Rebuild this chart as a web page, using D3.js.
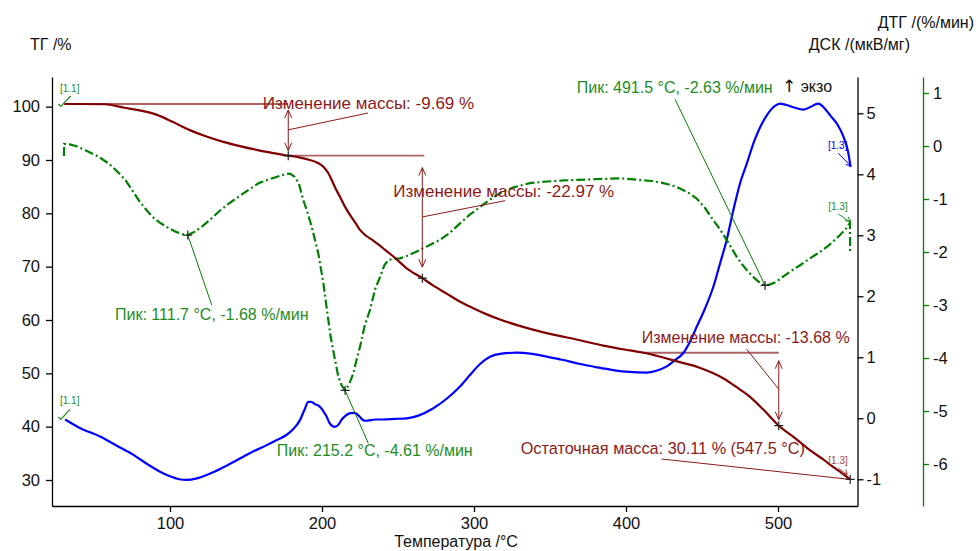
<!DOCTYPE html>
<html><head><meta charset="utf-8">
<script src="https://cdn.jsdelivr.net/npm/d3@7"></script>
<style>
html,body{margin:0;padding:0;background:#fff;}
svg{display:block;font-family:"Liberation Sans",Arial,sans-serif;}
</style></head><body>
<svg id="c" width="976" height="551"></svg>
<script>
// ---------- DATA ----------
const tgT = [30.5,40,57,70,80,91,102,113,124,135,146,157,168,177.8,185,192,197,200.9,204,206.4,209,211.8,215,218.4,222,225,229,233.7,240,247,255.7,266,274,282,290,299.5,308,317,330,340,350,369.7,385,402.6,410,420,435.5,447,457.5,465,472.8,481.6,490,500.5,511,521,530,536,542,547.5];
const tgV = [100.5,100.5,100.45,99.8,99.3,98.5,97.1,95.6,94.4,93.4,92.6,91.9,91.3,90.81,90.5,90.0,89.5,88.75,87.6,86.25,84.6,83.1,81.3,79.7,78.2,76.9,75.8,74.9,73.5,71.9,69.7,67.84,66.3,64.95,63.55,62.2,61.1,60.1,58.9,58.1,57.4,56.2,55.2,54.3,53.95,53.3,52.1,51.2,50.0,48.9,47.4,45.6,43.3,40.18,37.9,35.6,33.8,32.5,31.3,30.11];

const dscT = [31,40,54,65,75.9,85,93.4,100,106,111,117,122,128,137,146,155,163.6,170,176.8,181,185.5,188.5,191,193,195.5,197.6,200,201.5,203,205,207,208.5,211,213,215,218,220.5,222.5,225,227,229,235,240,248,255.7,263,273,282,290.8,297,304,310.5,318,328,337,347.8,358,369.7,380,391.6,402,413.6,420,426.8,432,437.7,442,446.5,452,457.5,462,466.2,470.6,475,479.4,484,488,491,494.7,498,501.3,505,510,516.7,521,526.5,530,534.2,539,543,546,547.8];
const dscV = [-0.02,-0.15,-0.30,-0.45,-0.60,-0.75,-0.875,-0.95,-1.0,-1.01,-0.99,-0.95,-0.89,-0.78,-0.66,-0.54,-0.44,-0.36,-0.27,-0.18,-0.03,0.14,0.27,0.27,0.23,0.21,0.15,0.09,0.03,-0.08,-0.13,-0.14,-0.10,-0.02,0.03,0.08,0.09,0.08,0.02,-0.03,-0.04,-0.02,-0.02,-0.01,0.0,0.04,0.16,0.32,0.52,0.70,0.89,1.01,1.06,1.075,1.06,1.01,0.96,0.89,0.84,0.79,0.76,0.75,0.78,0.85,0.95,1.07,1.25,1.5,1.8,2.16,2.55,2.92,3.41,3.85,4.17,4.52,4.76,4.9,5.04,5.12,5.16,5.14,5.1,5.06,5.1,5.16,5.1,4.97,4.82,4.62,4.38,4.12];

const dtgT = [30.2,30.4,34,38,44.3,50.9,55,59.7,65,70.6,75,79.4,84,88.2,93,99.1,104,110,111.7,116,121,126,132,138,145,152,158.4,165,171.5,176,179,182,184.7,187.7,190,193.2,197.6,200.9,204,205.7,208,210.7,213,215.2,217.5,220.6,223,225,228,231.6,235,238.2,241,243.6,247,251.3,256,262.3,270,277.6,284,290.8,297,304,310,317,326,336.8,348,358.8,376,396,409,417,424.5,430,435.5,441,446.5,452,457.5,462,466.2,469.5,472.8,476,479.4,483,486,489,491.5,495,499,504,510,514.5,521,527.6,534,540.8,545,547.3,547.5];
const dtgV = [-0.19,0.04,0.03,0.0,-0.08,-0.17,-0.24,-0.33,-0.47,-0.64,-0.83,-1.02,-1.19,-1.33,-1.44,-1.55,-1.62,-1.68,-1.68,-1.62,-1.52,-1.40,-1.24,-1.10,-0.96,-0.82,-0.70,-0.63,-0.57,-0.53,-0.52,-0.58,-0.70,-1.02,-1.21,-1.52,-2.03,-2.59,-3.25,-3.6,-3.95,-4.35,-4.52,-4.61,-4.52,-4.29,-4.0,-3.79,-3.4,-3.09,-2.7,-2.47,-2.25,-2.15,-2.13,-2.12,-2.07,-1.99,-1.88,-1.77,-1.64,-1.46,-1.30,-1.15,-1.02,-0.89,-0.78,-0.70,-0.67,-0.65,-0.63,-0.61,-0.64,-0.66,-0.70,-0.74,-0.80,-0.88,-0.99,-1.17,-1.40,-1.58,-1.77,-1.93,-2.09,-2.22,-2.34,-2.45,-2.53,-2.60,-2.63,-2.61,-2.56,-2.45,-2.33,-2.25,-2.12,-2.0,-1.86,-1.68,-1.55,-1.45,-2.02];

const xTicks = [100,200,300,400,500];
const tgTicks = [30,40,50,60,70,80,90,100];
const dscTicks = [-1,0,1,2,3,4,5];
const dtgTicks = [-6,-5,-4,-3,-2,-1,0,1];

// mass-change steps (data units)
const stepLabels = ["Изменение массы: -9.69 %","Изменение массы: -22.97 %","Изменение массы: -13.68 %"];
const stepFromT = [30.5,177.8,410];
const stepArrowT = [177.8,266,500.5];
const stepTop = [100.5,90.81,53.86];
const stepBottom = [90.81,67.84,40.18];
const residualLabel = "Остаточная масса: 30.11 % (547.5 °C)";
const residualT = 547.5, residualV = 30.11;

// DTG peaks
const peakLabels = ["Пик: 111.7 °C, -1.68 %/мин","Пик: 215.2 °C, -4.61 %/мин","Пик: 491.5 °C, -2.63 %/мин"];
const peakT = [111.7,215.2,491.5];
const peakV = [-1.68,-4.61,-2.63];

// ---------- SCALES ----------
const svg = d3.select("#c");
const L = 52, R = 857.5, T = 77, B = 506, G = 923;
const x = d3.scaleLinear().domain([22.37,552.3]).range([L,R]);
const yTG = d3.scaleLinear().domain([25.125,105.56]).range([B,T]);
const yDSC = d3.scaleLinear().domain([-1.438,5.595]).range([B,T]);
const yDTG = d3.scaleLinear().domain([-6.792,1.302]).range([B,T]);

const FONT = "16.5px";
const cTG = "#800000", cDSC = "#0000ff", cDTG = "#008000";
const cAnn = "#8b1a1a", cAnnLine = "#a04848", cGreenTxt = "#1e8c1e";
const fmt = d => String(d);

function styleAxis(g, color){
  g.selectAll("path,line").attr("stroke", color).attr("stroke-width",1.3);
  g.selectAll("text").attr("fill","#111").style("font-size",FONT).style("font-family",'"Liberation Sans",Arial,sans-serif');
}
const gl = svg.append("g").attr("transform",`translate(${L},0)`);
gl.call(d3.axisLeft(yTG).tickValues(d3.range(26,105.5,2)).tickSize(3).tickFormat("")).call(g=>styleAxis(g,"#000"));
gl.call(d3.axisLeft(yTG).tickValues(tgTicks).tickSize(6).tickPadding(6).tickSizeOuter(0).tickFormat(fmt)).call(g=>styleAxis(g,"#000"));
const gb = svg.append("g").attr("transform",`translate(0,${B})`);
gb.call(d3.axisBottom(x).tickValues(d3.range(40,552,20)).tickSize(4).tickFormat("").tickSizeOuter(0)).call(g=>styleAxis(g,"#000"));
gb.call(d3.axisBottom(x).tickValues(xTicks).tickSize(6).tickPadding(5).tickSizeOuter(0).tickFormat(fmt)).call(g=>styleAxis(g,"#000"));
const gr = svg.append("g").attr("transform",`translate(${R},0)`);
gr.call(d3.axisRight(yDSC).tickValues(d3.range(-1.4,5.6,0.2)).tickSize(3).tickFormat("").tickSizeOuter(0)).call(g=>styleAxis(g,"#000"));
gr.call(d3.axisRight(yDSC).tickValues(dscTicks).tickSize(6).tickPadding(3).tickSizeOuter(0).tickFormat(fmt)).call(g=>styleAxis(g,"#000"));
const gg = svg.append("g").attr("transform",`translate(${G},0)`);
gg.call(d3.axisRight(yDTG).tickValues(d3.range(-6.6,1.3,0.2)).tickSize(3).tickFormat("").tickSizeOuter(0)).call(g=>styleAxis(g,cDTG));
gg.call(d3.axisRight(yDTG).tickValues(dtgTicks).tickSize(6).tickPadding(4).tickSizeOuter(0).tickFormat(fmt)).call(g=>styleAxis(g,cDTG));

const title = (t,xx,yy,anchor)=>svg.append("text").attr("x",xx).attr("y",yy).attr("text-anchor",anchor||"start").style("font-size","16px").attr("fill","#111").text(t);
title("ТГ /%",30,50);
title("ДТГ /(%/мин)",974,28,"end");
title("ДСК /(мкВ/мг)",910,50,"end");
title("Температура /°C",456,547,"middle");

// ---------- CURVES ----------
const lineTG = d3.line().x((d,i)=>x(tgT[i])).y((d,i)=>yTG(tgV[i])).curve(d3.curveMonotoneX);
const lineDSC = d3.line().x((d,i)=>x(dscT[i])).y((d,i)=>yDSC(dscV[i])).curve(d3.curveMonotoneX);
const lineDTG = d3.line().x((d,i)=>x(dtgT[i])).y((d,i)=>yDTG(dtgV[i])).curve(d3.curveLinear);

const ann = svg.append("g");
for(let i=0;i<3;i++){
  ann.append("line").attr("x1",x(stepFromT[i])).attr("x2",x(stepArrowT[i])+(i===1?2:0))
    .attr("y1",yTG(stepTop[i])).attr("y2",yTG(stepTop[i]))
    .attr("stroke",cAnnLine).attr("stroke-width",1.8).attr("opacity",0.85);
}

svg.append("path").attr("d",lineDSC(dscT)).attr("fill","none").attr("stroke",cDSC).attr("stroke-width",2.2);
svg.append("path").attr("d",lineDTG(dtgT)).attr("fill","none").attr("stroke",cDTG).attr("stroke-width",2.2).attr("stroke-dasharray","9,3,2,3");
svg.append("path").attr("d",lineTG(tgT)).attr("fill","none").attr("stroke",cTG).attr("stroke-width",2.2);

// ---------- ANNOTATIONS ----------
const ann2 = svg.append("g");
function arrowHead(px,py,dir){
  return `M${px-3.5},${py-dir*8}L${px},${py}L${px+3.5},${py-dir*8}`;
}
const insets = [[6,5],[12,11],[8,6]];
const labelPos = [[262.7,109],[393.3,196.5],[641.7,342.5]];
const labelSize = ["17px","17px","16px"];
const labelLineEnd = [[368,113],[505,200.7],[746.7,349.3]];
for(let i=0;i<3;i++){
  const ax = x(stepArrowT[i]);
  const yt = yTG(stepTop[i]) + insets[i][0];
  const yb = yTG(stepBottom[i]) - insets[i][1];
  ann2.append("line").attr("x1",ax).attr("x2",ax).attr("y1",yt).attr("y2",yb).attr("stroke",cAnn).attr("stroke-width",1);
  ann2.append("path").attr("d",arrowHead(ax,yt,-1)+arrowHead(ax,yb,1)).attr("fill","none").attr("stroke",cAnn).attr("stroke-width",1);
  const ym = (yTG(stepTop[i])+yTG(stepBottom[i]))/2;
  ann2.append("line").attr("x1",ax).attr("y1",ym).attr("x2",labelLineEnd[i][0]).attr("y2",labelLineEnd[i][1]).attr("stroke",cAnn).attr("stroke-width",1);
  ann2.append("text").attr("x",labelPos[i][0]).attr("y",labelPos[i][1]).style("font-size",labelSize[i]).attr("fill",cAnn).text(stepLabels[i]);
}
ann2.append("line").attr("x1",661.7).attr("y1",459).attr("x2",x(residualT)).attr("y2",yTG(residualV)).attr("stroke",cAnn).attr("stroke-width",1);
ann2.append("text").attr("x",520.7).attr("y",454).style("font-size","16.25px").attr("fill",cAnn).text(residualLabel);

const peakLabelPos = [[115,320],[276.7,456],[576.7,93]];
const peakLineEnd = [[211.7,305],[368.3,443.3],[675,99.3]];
for(let i=0;i<3;i++){
  ann2.append("line").attr("x1",x(peakT[i])).attr("y1",yDTG(peakV[i])).attr("x2",peakLineEnd[i][0]).attr("y2",peakLineEnd[i][1]).attr("stroke",cDTG).attr("stroke-width",1);
  ann2.append("text").attr("x",peakLabelPos[i][0]).attr("y",peakLabelPos[i][1]).style("font-size","16px").attr("fill",cGreenTxt).text(peakLabels[i]);
}
ann2.append("text").attr("x",782).attr("y",92).style("font-size","16px").attr("fill","#111")
  .call(t=>{t.append("tspan").style("font-family","DejaVu Sans").style("font-size","17px").text("↑"); t.append("tspan").text(" экзо");});

function plus(px,py){
  ann2.append("path").attr("d",`M${px-4.5},${py}H${px+4.5}M${px},${py-4.5}V${py+4.5}`).attr("stroke","#222").attr("stroke-width",1.2);
}
stepArrowT.forEach((t,i)=>plus(x(t),yTG(stepBottom[i])));
plus(x(residualT),yTG(residualV));
peakT.forEach((t,i)=>plus(x(t),yDTG(peakV[i])));

function seg(label,color,lx,ly,x1,y1,x2,y2,check){
  ann2.append("text").attr("x",lx).attr("y",ly).style("font-size","10px").attr("fill",color).text(label);
  if(check){
    ann2.append("path").attr("d",`M${x1},${y1-2.5}L${x1+2.5},${y1}L${x2},${y2}`).attr("fill","none").attr("stroke",color).attr("stroke-width",1.2);
  } else {
    ann2.append("path").attr("d",`M${x1},${y1}L${x2},${y2}M${x2-5},${y2-1.5}L${x2},${y2}L${x2-1.5},${y2-5}`).attr("fill","none").attr("stroke",color).attr("stroke-width",1);
  }
}
seg("[1.1]",cGreenTxt,60,92,58.3,106.5,70.7,96,true);
seg("[1.1]",cGreenTxt,60,404,58.3,419.5,70,409.3,true);
seg("[1.3]",cDSC,828,149,838.3,153.3,x(dscT[dscT.length-1]),yDSC(dscV[dscV.length-1])-1,false);
seg("[1.3]",cGreenTxt,828.3,210,838.3,214,x(547.3),yDTG(-1.45)-1,false);
seg("[1.3]",cAnnLine,828.3,464,838.3,468.3,x(residualT)-3,yTG(residualV)-5,false);
</script>
</body></html>
